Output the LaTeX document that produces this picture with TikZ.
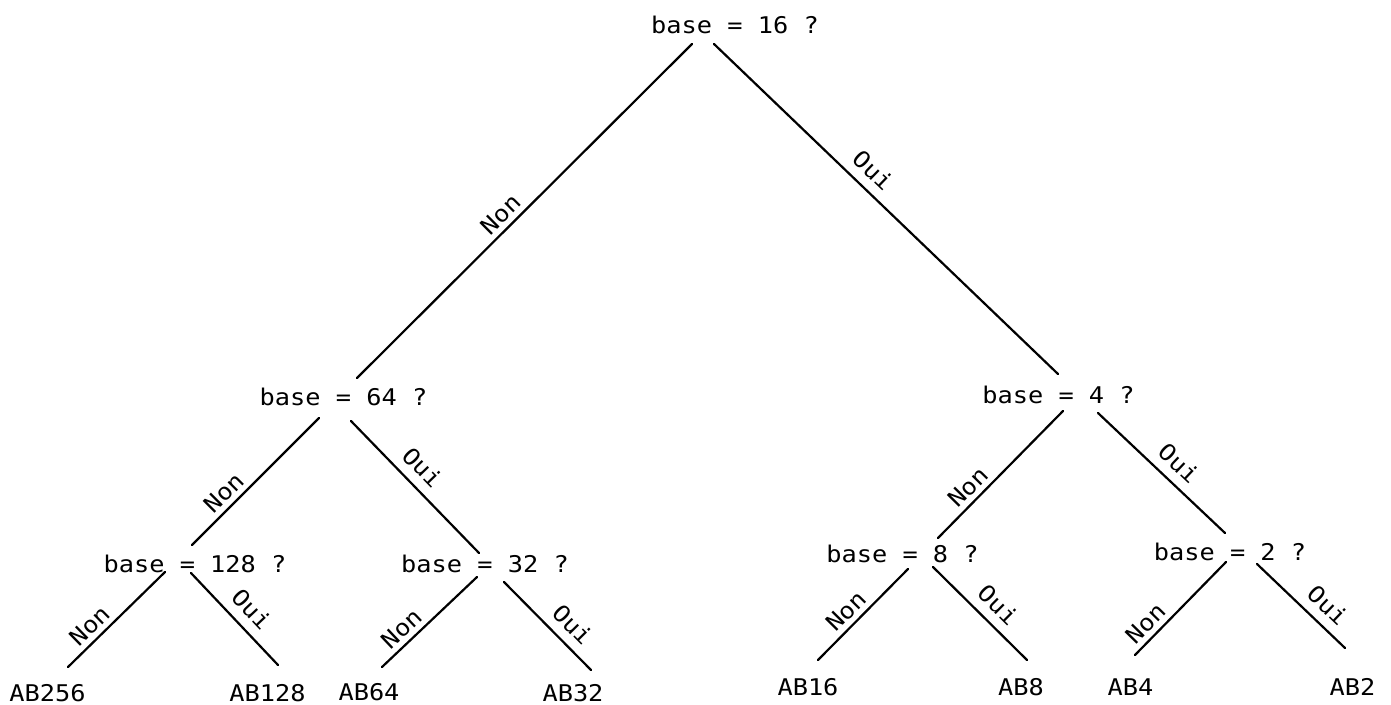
\documentclass[tikz,border=0pt]{standalone}
\usepackage{fontspec}
\newfontfamily\plotfont[FakeStretch=1.1]{DejaVu Sans Mono}
\begin{document}
\begin{tikzpicture}[x=1pt,y=-1pt,
  txt/.style={anchor=base,inner sep=0pt,font=\plotfont\fontsize{23}{26}\selectfont},
  edge/.style={line width=2.2pt,line cap=round},
  lab/.style={sloped,above,inner xsep=0pt,font=\plotfont\fontsize{23}{26}\selectfont},
  non/.style={lab,inner ysep=5pt},
  oui/.style={lab,inner ysep=9pt}]
\useasboundingbox (0,0) rectangle (1391,704);
% question nodes
\node[txt] (r)    at (735,33)    {base = 16 ?};
\node[txt] (q64)  at (343.5,405) {base = 64 ?};
\node[txt] (q4)   at (1058.5,403){base = 4 ?};
\node[txt] (q128) at (195,572)   {base = 128 ?};
\node[txt] (q32)  at (485,572)   {base = 32 ?};
\node[txt] (q8)   at (902.5,562) {base = 8 ?};
\node[txt] (q2)   at (1230,560)  {base = 2 ?};
% leaves
\node[txt] (ab256) at (47.5,701)  {AB256};
\node[txt] (ab128) at (267.5,701) {AB128};
\node[txt] (ab64)  at (369,700)   {AB64};
\node[txt] (ab32)  at (573,701)   {AB32};
\node[txt] (ab16)  at (808,695)   {AB16};
\node[txt] (ab8)   at (1021,695)  {AB8};
\node[txt] (ab4)   at (1130.5,695){AB4};
\node[txt] (ab2)   at (1352.5,695){AB2};
% connector end points
\coordinate (r-l) at (692,44);    \coordinate (q64-t) at (357,378);
\coordinate (r-r) at (714,44);    \coordinate (q4-t) at (1058,374);
\coordinate (q64-l) at (319,418); \coordinate (q128-t) at (192,545);
\coordinate (q64-r) at (351,421); \coordinate (q32-t) at (479,553);
\coordinate (q4-l) at (1063,411); \coordinate (q8-t) at (938,538);
\coordinate (q4-r) at (1098,413); \coordinate (q2-t) at (1225,533);
\coordinate (q128-l) at (165,572); \coordinate (ab256-t) at (68,667);
\coordinate (q128-r) at (191,573); \coordinate (ab128-t) at (278,665);
\coordinate (q32-l) at (477,577); \coordinate (ab64-t) at (382,667);
\coordinate (q32-r) at (504,582); \coordinate (ab32-t) at (591,670);
\coordinate (q8-l) at (908,569);  \coordinate (ab16-t) at (818,660);
\coordinate (q8-r) at (933,567);  \coordinate (ab8-t) at (1027,660);
\coordinate (q2-l) at (1226,562); \coordinate (ab4-t) at (1135,655);
\coordinate (q2-r) at (1257,564); \coordinate (ab2-t) at (1345,648);
% connectors
\draw[edge] (r-l) -- node[non,pos=0.541]{Non} (q64-t);
\draw[edge] (r-r) -- node[oui,pos=0.424]{Oui} (q4-t);
\draw[edge] (q64-l) -- node[non,pos=0.669]{Non} (q128-t);
\draw[edge] (q64-r) -- node[oui,pos=0.452]{Oui} (q32-t);
\draw[edge] (q4-l) -- node[non,pos=0.678]{Non} (q8-t);
\draw[edge] (q4-r) -- node[oui,pos=0.534]{Oui} (q2-t);
\draw[edge] (q128-l) -- node[non,pos=0.673]{Non} (ab256-t);
\draw[edge] (q128-r) -- node[oui,pos=0.539]{Oui} (ab128-t);
\draw[edge] (q32-l) -- node[non,pos=0.69]{Non} (ab64-t);
\draw[edge] (q32-r) -- node[oui,pos=0.634]{Oui} (ab32-t);
\draw[edge] (q8-l) -- node[non,pos=0.574]{Non} (ab16-t);
\draw[edge] (q8-r) -- node[oui,pos=0.551]{Oui} (ab8-t);
\draw[edge] (q2-l) -- node[non,pos=0.77]{Non} (ab4-t);
\draw[edge] (q2-r) -- node[oui,pos=0.655]{Oui} (ab2-t);
\end{tikzpicture}
\end{document}
